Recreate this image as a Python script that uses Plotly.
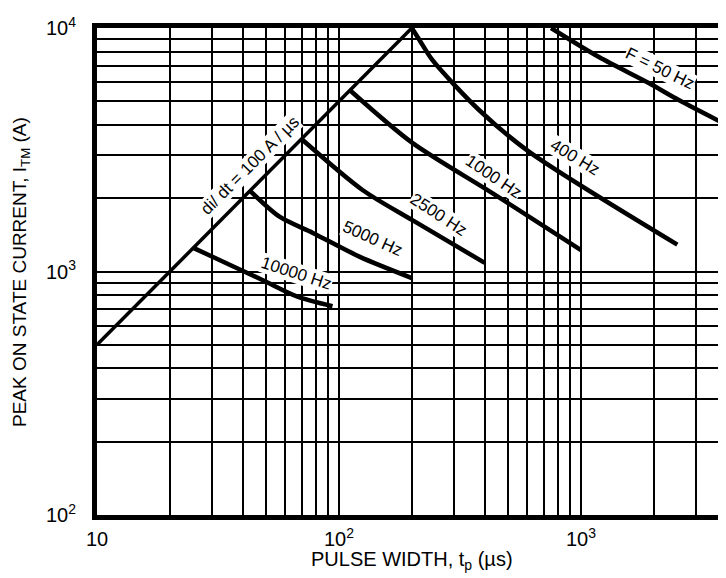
import numpy as np
import plotly.graph_objects as go

# di/dt = 100 A/us limit line
didt_t = [10, 200]
didt_I = [500, 10000]

# constant-frequency curves (pulse width us, peak current A)
f10000_t = [25, 30, 48, 67, 94]
f10000_I = [1250, 1150, 925, 790, 720]
f5000_t = [43, 57, 78, 122, 200]
f5000_I = [2140, 1675, 1440, 1148, 940]
f2500_t = [70, 125, 201, 400]
f2500_I = [3500, 2162, 1625, 1085]
f1000_t = [111, 201, 430, 1000]
f1000_I = [5550, 3373, 2099, 1225]
f400_t = [200, 215, 243, 379, 611, 2500]
f400_I = [10000, 8930, 7390, 4605, 3100, 1290]
f50_t = [752, 1186, 1905, 2535, 4000]
f50_I = [10000, 7600, 5946, 5060, 4000]

series = [
    (didt_t, didt_I, 3.5),
    (f10000_t, f10000_I, 4.5),
    (f5000_t, f5000_I, 4.5),
    (f2500_t, f2500_I, 4.5),
    (f1000_t, f1000_I, 4.5),
    (f400_t, f400_I, 4.5),
    (f50_t, f50_I, 4.5),
]

# labels: text, t, I, angle
label_text = ["F = 50 Hz", "400 Hz", "1000 Hz", "2500 Hz", "5000 Hz", "10000 Hz", "di/ dt = 100 A / µs"]
label_t = [2099, 927, 425, 252, 136, 66, 42.8]
label_I = [6730, 2846, 2377, 1660, 1333, 940, 2735]
label_ang = [26, 31, 34, 33, 24, 18, -45]
label_off = [2, 4, 4, 4, 3, 5, 0]

x_grid = [m * 10 ** d for d in (1, 2, 3) for m in range(1, 10) if m * 10 ** d <= 4000]
x_text = ["10" if v == 10 else ("10<sup>2</sup>" if v == 100 else ("10<sup>3</sup>" if v == 1000 else "")) for v in x_grid]
y_grid = [m * 10 ** d for d in (2, 3) for m in range(1, 10)] + [10000]
y_text = ["10<sup>2</sup>" if v == 100 else ("10<sup>3</sup>" if v == 1000 else ("10<sup>4</sup>" if v == 10000 else "")) for v in y_grid]

FONT = "Liberation Sans, Arial, sans-serif"
# page body has an 8px margin, so the figure is shifted by 8px
OFF = 8
W, H = 726 - OFF, 578 - OFF
L, R, T = 97 - OFF, 1, 28 - OFF
B = H - (515 - OFF)
PW, PH = W - L - R, H - T - B

fig = go.Figure()
for t, I, w in series:
    fig.add_trace(go.Scatter(x=t, y=I, mode="lines",
                             line=dict(color="black", width=w, shape="spline", smoothing=0.8),
                             showlegend=False, hoverinfo="skip"))

for txt, t, I, a, d in zip(label_text, label_t, label_I, label_ang, label_off):
    r = np.radians(a)
    fig.add_annotation(x=np.log10(t), y=np.log10(I), xref="x", yref="y", text=txt,
                       showarrow=False, textangle=a, bgcolor="white",
                       xshift=d * np.sin(r), yshift=d * np.cos(r),
                       font=dict(family=FONT, size=17, color="black"), borderpad=0)

# axis titles (screen coords of reference converted to paper)
fig.add_annotation(x=(412 - 97) / PW, y=-(560 - 515) / PH, xref="paper", yref="paper",
                   xanchor="center", yanchor="middle",
                   text="PULSE WIDTH, t<sub>p</sub> (µs)", showarrow=False,
                   font=dict(family=FONT, size=20, color="black"))
fig.add_annotation(x=-(97 - 21) / PW, y=1 - (272 - 28) / PH, xref="paper", yref="paper",
                   xanchor="center", yanchor="middle",
                   text="PEAK ON STATE CURRENT, I<sub>TM</sub> (A)", showarrow=False, textangle=-90,
                   font=dict(family=FONT, size=19, color="black"))

fig.update_xaxes(type="log", range=[1, 3.595], tickvals=x_grid, ticktext=x_text,
                 showgrid=True, gridcolor="black", gridwidth=1.8,
                 showline=True, linecolor="black", linewidth=5, mirror=True,
                 ticks="", ticklabelstandoff=2, automargin=False,
                 tickfont=dict(family=FONT, size=20, color="black"),
                 zeroline=False)
fig.update_yaxes(type="log", range=[2, 4], tickvals=y_grid, ticktext=y_text,
                 showgrid=True, gridcolor="black", gridwidth=1.8,
                 showline=True, linecolor="black", linewidth=5, mirror=True,
                 ticks="", ticklabelstandoff=12, automargin=False,
                 tickfont=dict(family=FONT, size=20, color="black"),
                 zeroline=False)

fig.update_layout(width=W, height=H, margin=dict(l=L, r=R, t=T, b=B),
                  plot_bgcolor="white", paper_bgcolor="white")

fig.write_html("out.html")
